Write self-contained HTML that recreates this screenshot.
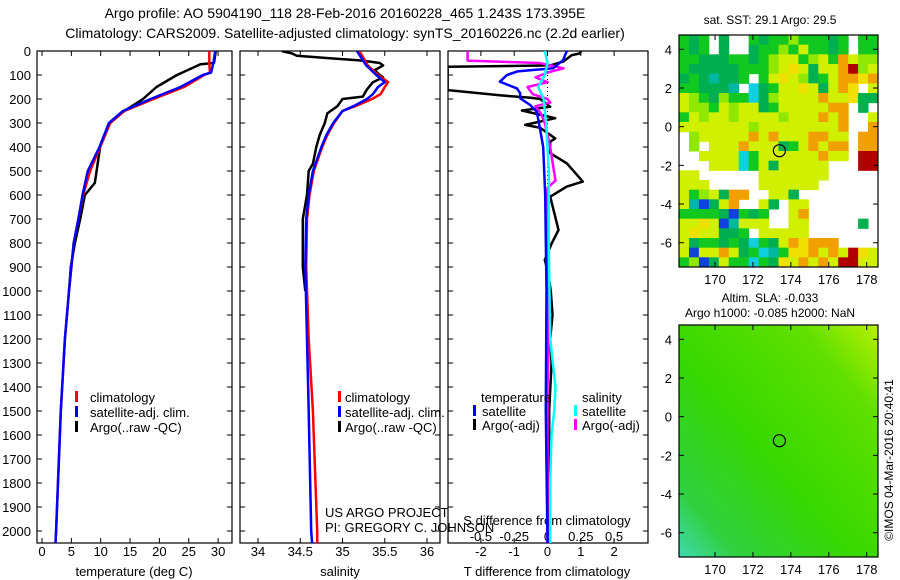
<!DOCTYPE html>
<html><head><meta charset="utf-8"><style>
html,body{margin:0;padding:0;background:#fff}
svg{display:block;font-family:"Liberation Sans",sans-serif}
text{fill:#000}
</style></head><body>
<svg id="c" width="900" height="580" viewBox="0 0 900 580" xmlns="http://www.w3.org/2000/svg">
<text x="345" y="18" font-size="14" text-anchor="middle">Argo profile: AO 5904190_118 28-Feb-2016 20160228_465 1.243S 173.395E</text>
<text x="345" y="38" font-size="14" text-anchor="middle">Climatology: CARS2009. Satellite-adjusted climatology: synTS_20160226.nc (2.2d earlier)</text>
<g id="g"></g>
</svg>
<script>
// ---------- data ----------
const depthTicks=[0,100,200,300,400,500,600,700,800,900,1000,1100,1200,1300,1400,1500,1600,1700,1800,1900,2000];
const tempTicks=[0,5,10,15,20,25,30];
const salTicks=[34,34.5,35,35.5,36];
const tdiffTicks=[-2,-1,0,1,2];
const sdiffTicks=[-0.5,-0.25,0,0.25,0.5];

const tClimDepth=[0,50,90,100,150,200,250,300,400,500,600,700,800,1000,1200,1500,2000,2050];
const tClimVal=[28.5,28.5,28.6,27.6,24.2,19.0,14.0,11.6,9.9,8.2,7.0,6.2,5.4,4.6,3.9,3.2,2.4,2.3];
const tSatDepth=[0,50,90,100,150,200,250,300,400,500,600,700,800,1000,1200,1500,2000,2050];
const tSatVal=[29.5,29.2,28.8,27.4,23.6,18.5,13.8,11.4,9.8,7.8,6.9,6.2,5.4,4.6,3.9,3.2,2.4,2.3];
const tArgoDepth=[0,50,55,100,150,200,250,300,400,500,550,600,700,800,900,1000];
const tArgoVal=[29.6,29.3,27.0,23.0,19.5,17.2,14.0,11.6,9.9,9.3,9.0,7.3,6.5,5.6,4.9,4.6];

const sClimDepth=[0,60,100,130,150,180,200,230,250,300,350,400,500,600,700,900,1200,1500,2000,2050];
const sClimVal=[35.2,35.3,35.42,35.54,35.5,35.45,35.35,35.15,35.0,34.9,34.82,34.76,34.66,34.61,34.58,34.57,34.6,34.65,34.7,34.7];
const sSatDepth=[0,60,100,130,150,180,200,230,250,300,350,400,500,600,700,900,1200,1500,2000,2050];
const sSatVal=[35.17,35.28,35.4,35.5,35.42,35.36,35.29,35.13,35.0,34.89,34.81,34.75,34.65,34.6,34.57,34.56,34.58,34.6,34.63,34.64];
const sArgoDepth=[0,10,20,30,40,50,60,80,100,110,130,160,190,200,230,260,300,350,400,470,500,600,700,900,1000];
const sArgoVal=[34.28,34.4,34.46,34.85,35.24,35.44,35.48,35.38,35.44,35.48,35.36,35.29,35.24,35.0,34.94,34.82,34.79,34.73,34.69,34.65,34.6,34.58,34.53,34.53,34.56];

const tdSatDepth=[0,37,72,85,100,128,156,176,197,225,253,329,400,600,1000,1500,2050];
const tdSatVal=[0.58,0.47,0.17,-0.9,-1.22,-1.43,-0.92,-0.82,-0.82,-0.52,-0.32,-0.22,-0.13,-0.07,-0.03,-0.05,0];
const tdArgoDepth=[0,10,17,44,60,66,72,160,163,185,195,200,232,248,280,308,320,364,378,426,468,544,565,607,690,746,801,871,926,1000,1100,1200,1300,1500,2050];
const tdArgoVal=[1.0,0.98,0.73,0.47,0.08,-3.0,-3.0,-3.0,-3.0,-1.4,-0.5,-0.22,0.08,-0.77,0.23,-0.67,-0.22,0.23,0.08,0.08,0.58,1.06,0.58,0.08,0.23,0.33,0.13,-0.08,0.02,0.1,0.15,0.08,0.12,0.05,0.05];
const sdArgoDepth=[0,30,40,50,72,90,110,130,150,180,200,215,230,260,300,350,400,470,540,570,700,1000,1200,1400,1600,2050];
const sdArgoVal=[-0.6,-0.6,-0.6,-0.06,0.12,0,-0.09,0,-0.15,-0.11,0,0.02,-0.09,-0.05,-0.02,0,0.02,0.04,0.06,0,-0.01,0,0.01,0,0,0];
const sdSatDepth=[0,50,100,150,200,300,500,800,1200,1400,1500,1600,1800,2050];
const sdSatVal=[-0.02,0,-0.02,-0.07,-0.03,-0.01,0.01,0.01,0.02,0.06,0.05,0.03,0.02,0.02];

const mapLonTicks=[170,172,174,176,178];
const mapLatTicks=[4,2,0,-2,-4,-6];
const argoLon=[173.395];
const argoLat=[-1.243];
const sstRows=[
"gGgwGwwgGgglgggGgwgg",
"gGgwGwwGgglgyggGgwgg",
"ggGGGggGglyyglygoyll",
"gGGGGGggglyYyGyyorly",
"GgGtGGgwgyYylGgyooYo",
"ggGGGtwcGgyyYyGyoYwy",
"ylgGlggcGlyyyyoyyYGG",
"yllgylyyGgyyyyyoowGw",
"gylyylyyyylyyyoyowwy",
"yyyyyyylyyyyyyyyowwo",
"wlyyyyyoyoyyyooyywoo",
"wlwyyyoyyyGgyoyoowoo",
"wwyyyycgyyyyyyoyywrr",
"wwwyyycgyGyyyyywwwrr",
"yywwwwwwyyyyyyywwwww",
"yyywwwwwyyyyyywwwwww",
"yglyGoowwyyGwwwwwwww",
"ytbGyowwyGwyywwwwwww",
"ggggGbgGgwwyowwwwwww",
"yyYybtyyywwyywwwwwGw",
"yYyyGGgwyyyyywwwwwww",
"yGggGgGcgGyoYooowwww",
"ybyyoyGgctgYYoyoyrYy",
"glbGyggcgGYyoyoyrryy"];
const sstColors={g:"#10c820",G:"#00b050",t:"#00b8a0",c:"#10d0e0",b:"#1040e0",y:"#d0f000",Y:"#f0e000",l:"#90e800",o:"#f0a000",r:"#b00000"};

// ---------- helpers ----------
const NS="http://www.w3.org/2000/svg";
const G=document.getElementById('g');
function mk(tag,attrs,parent){const e=document.createElementNS(NS,tag);for(const k in attrs)e.setAttribute(k,attrs[k]);(parent||G).appendChild(e);return e;}
const Y0=51,PY=0.24,PB=543;
const yD=d=>Y0+d*PY;

function panel(name,x0,x1){
  const r=mk('rect',{x:x0,y:Y0,width:x1-x0,height:PB-Y0,fill:'none',stroke:'#000','stroke-width':1.2});
  
  
  depthTicks.forEach(d=>{
    const t1=mk('line',{x1:x0,x2:x0+5,y1:yD(d),y2:yD(d),stroke:'#000'});
    
    
    const t2=mk('line',{x1:x1-5,x2:x1,y1:yD(d),y2:yD(d),stroke:'#000'});
    
    
  });
}
function xticks(name,x0,x1,sc,ticks,labY,fmt){
  ticks.forEach(v=>{
    const x=sc(v);
    const a=mk('line',{x1:x,x2:x,y1:PB,y2:PB-5,stroke:'#000'});
    
    
    const b=mk('line',{x1:x,x2:x,y1:Y0,y2:Y0+5,stroke:'#000'});
    
    
    if(labY){const t=mk('text',{x:x,y:labY,'font-size':13,'text-anchor':'middle'});t.textContent=fmt?fmt(v):v;
    
    }
  });
}
function line(name,depths,vals,sc,color,w,clipId){
  const pts=depths.map((d,i)=>sc(vals[i]).toFixed(1)+','+yD(d).toFixed(1)).join(' ');
  const p=mk('polyline',{points:pts,fill:'none',stroke:color,'stroke-width':w||2.5,'stroke-linejoin':'round','clip-path':'url(#'+clipId+')'});
  
  
}
function text(name,x,y,s,size,anchor){const t=mk('text',{x:x,y:y,'font-size':size||13,'text-anchor':anchor||'start'});t.textContent=s;
  
  return t;}
function legendMark(name,x,y,color){const r=mk('rect',{x:x,y:y-11,width:3,height:11,fill:color});
  
  }
const defs=mk('defs',{});
function clip(id,x0,x1){const c=mk('clipPath',{id:id},defs);mk('rect',{x:x0,y:Y0,width:x1-x0,height:PB-Y0},c);}

// ---------- panel 1: temperature ----------
const P1=[37,232];const sT=v=>42+v*5.87;
clip('c1',P1[0],P1[1]);
panel('temperature-panel',P1[0],P1[1]);
depthTicks.forEach(d=>text('depth-tick-label',31,yD(d)+5,String(d),13,'end'));
xticks('temperature-axis',P1[0],P1[1],sT,tempTicks,556);
text('temperature-axis-title',134,576,'temperature (deg C)',13,'middle');
line('temp-argo-line',tArgoDepth,tArgoVal,sT,'#000',2.5,'c1');
line('temp-climatology-line',tClimDepth,tClimVal,sT,'#f00',2.5,'c1');
line('temp-satellite-line',tSatDepth,tSatVal,sT,'#00f',2.5,'c1');
legendMark('legend-climatology-mark',75,402,'#f00');text('legend-climatology',90,402,'climatology');
legendMark('legend-satellite-mark',75,417,'#00f');text('legend-satellite',90,417,'satellite-adj. clim.');
legendMark('legend-argo-mark',75,432,'#000');text('legend-argo',90,432,'Argo(..raw -QC)');

// ---------- panel 2: salinity ----------
const P2=[240,440];const sS=v=>258+(v-34)*84.5;
clip('c2',P2[0],P2[1]);
panel('salinity-panel',P2[0],P2[1]);
xticks('salinity-axis',P2[0],P2[1],sS,salTicks,556);
text('salinity-axis-title',340,576,'salinity',13,'middle');
line('sal-argo-line',sArgoDepth,sArgoVal,sS,'#000',2.5,'c2');
line('sal-climatology-line',sClimDepth,sClimVal,sS,'#f00',2.5,'c2');
line('sal-satellite-line',sSatDepth,sSatVal,sS,'#00f',2.5,'c2');
legendMark('legend2-climatology-mark',338,402,'#f00');text('legend2-climatology',345,402,'climatology');
legendMark('legend2-satellite-mark',338,417,'#00f');text('legend2-satellite',345,417,'satellite-adj. clim.');
legendMark('legend2-argo-mark',338,432,'#000');text('legend2-argo',345,432,'Argo(..raw -QC)');
text('project-label',325,517,'US ARGO PROJECT');
text('pi-label',325,532,'PI: GREGORY C. JOHNSON');

// ---------- panel 3: differences ----------
const P3=[448,648];const sTd=v=>547.5+v*33.3;const sSd=v=>547.5+v*133.2;
clip('c3',P3[0],P3[1]);
panel('difference-panel',P3[0],P3[1]);
xticks('tdiff-axis',P3[0],P3[1],sTd,tdiffTicks,556);
sdiffTicks.forEach(v=>text('sdiff-tick-label',sSd(v),541,String(v),13,'middle'));
const zl=mk('line',{x1:sTd(0),x2:sTd(0),y1:Y0,y2:PB,stroke:'#000','stroke-dasharray':'1,3'});


text('sdiff-axis-title',547,525,'S difference from climatology',13,'middle');
text('tdiff-axis-title',547,576,'T difference from climatology',13,'middle');
line('tdiff-argo-line',tdArgoDepth,tdArgoVal,sTd,'#000',2.5,'c3');
line('sdiff-argo-line',sdArgoDepth,sdArgoVal,sSd,'#f0f',2.5,'c3');
line('tdiff-satellite-line',tdSatDepth,tdSatVal,sTd,'#00f',2.5,'c3');
line('sdiff-satellite-line',sdSatDepth,sdSatVal,sSd,'#0ff',2.5,'c3');
text('legend3-temperature-head',481,402,'temperature');
legendMark('legend3-tsat-mark',473,416,'#00f');text('legend3-tsat',482,416,'satellite');
legendMark('legend3-targo-mark',473,430,'#000');text('legend3-targo',482,430,'Argo(-adj)');
text('legend3-salinity-head',582,402,'salinity');
legendMark('legend3-ssat-mark',574,416,'#0ff');text('legend3-ssat',582,416,'satellite');
legendMark('legend3-sargo-mark',574,430,'#f0f');text('legend3-sargo',582,430,'Argo(-adj)');

// ---------- maps ----------
function mapAxes(name,x0,y0,w,h){
  const lonS=v=>x0+(v-168.1)*18.96;const latS=v=>y0+(4.74-v)*19.34;
  mapLonTicks.forEach(v=>{const x=lonS(v);
    const a=mk('line',{x1:x,x2:x,y1:y0+h,y2:y0+h-5,stroke:'#000'});
    const b=mk('line',{x1:x,x2:x,y1:y0,y2:y0+5,stroke:'#000'});
    text(name+'-lon-label',x,y0+h+17,String(v),13,'middle');});
  mapLatTicks.forEach(v=>{const y=latS(v);
    const a=mk('line',{x1:x0,x2:x0+5,y1:y,y2:y,stroke:'#000'});
    const b=mk('line',{x1:x0+w-5,x2:x0+w,y1:y,y2:y,stroke:'#000'});
    text(name+'-lat-label',x0-7,y+5,String(v),13,'end');});
  argoLon.forEach((lo,i)=>{const c=mk('circle',{cx:lonS(lo),cy:latS(argoLat[i]),r:6,fill:'none',stroke:'#000','stroke-width':1.2});
    });
  const f=mk('rect',{x:x0,y:y0,width:w,height:h,fill:'none',stroke:'#000','stroke-width':1.2});
  
}
// SST map
const M1=[679,35,199,232];
text('sst-map-title',770,24,'sat. SST: 29.1 Argo: 29.5',12,'middle');
const cw=M1[2]/sstRows[0].length,ch=M1[3]/sstRows.length;
sstRows.forEach((row,r)=>{[...row].forEach((k,c)=>{
  if(k==='w')return;
  const cell=mk('rect',{x:(M1[0]+c*cw).toFixed(2),y:(M1[1]+r*ch).toFixed(2),width:(cw+0.5).toFixed(2),height:(ch+0.5).toFixed(2),fill:sstColors[k]});
  
  
});});
mapAxes('sst-map',...M1);
// SLA map
const M2=[679,325,199,232];
text('sla-map-title-1',770,302,'Altim. SLA: -0.033',12,'middle');
text('sla-map-title-2',770,317,'Argo h1000: -0.085 h2000: NaN',12,'middle');
const lg=mk('linearGradient',{id:'slaG',x1:'1',y1:'0',x2:'0',y2:'1'},defs);
mk('stop',{offset:'0','stop-color':'#b8f000'},lg);mk('stop',{offset:'0.2','stop-color':'#60e000'},lg);
mk('stop',{offset:'0.55','stop-color':'#38d800'},lg);mk('stop',{offset:'0.85','stop-color':'#30d040'},lg);mk('stop',{offset:'1','stop-color':'#40d8b0'},lg);
const bg=mk('rect',{x:M2[0],y:M2[1],width:M2[2],height:M2[3],fill:'url(#slaG)'});


mapAxes('sla-map',...M2);
const cr=mk('text',{x:0,y:0,'font-size':12,'text-anchor':'middle',transform:'translate(893,460) rotate(-90)'});
cr.textContent='©IMOS 04-Mar-2016 20:40:41';


</script>
</body></html>
